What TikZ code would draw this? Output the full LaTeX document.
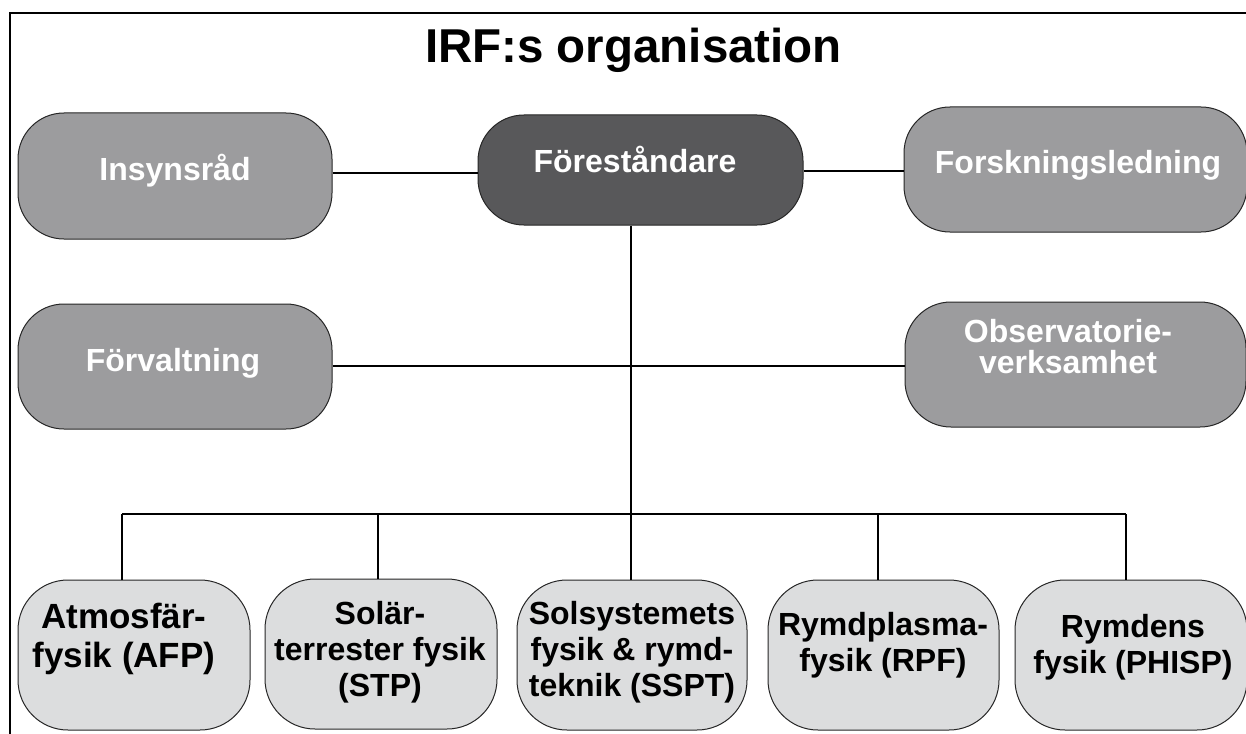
\documentclass[tikz,border=0pt]{standalone}
\usepackage{fontspec}
\setmainfont{Liberation Sans}
\definecolor{midgray}{RGB}{156,156,158}
\definecolor{headgray}{RGB}{88,88,90}
\definecolor{unitgray}{RGB}{220,221,222}
\begin{document}
\begin{tikzpicture}[x=1pt,y=-1pt,
  box/.style={draw=black!85, line width=1pt, rounded corners=46pt, inner sep=0pt},
  topbox/.style={box, fill=midgray},
  headbox/.style={box, fill=headgray},
  unitbox/.style={box, fill=unitgray, rounded corners=50pt, minimum width=232pt, minimum height=150pt},
  wtxt/.style={text=white, font=\bfseries\fontsize{32}{31}\selectfont, align=center, inner sep=0pt},
  btxt/.style={text=black, font=\bfseries\fontsize{32}{36}\selectfont, align=center, inner sep=0pt},
  conn/.style={line width=2.8pt, draw=black},
  frame/.style={line width=2.8pt, draw=black}]
\useasboundingbox (0,0) rectangle (1246,733);
% frame
\draw[frame] (1260,13) -| (10,745);
% title
\node[font=\bfseries\fontsize{47.5}{50}\selectfont, anchor=base, inner sep=0pt] (title) at (633.5,63) {IRF:s organisation};
% top row
\node[topbox, minimum width=314pt, minimum height=126pt] (ins) at (175,176) {};
\node[headbox, minimum width=325pt, minimum height=110pt] (for) at (640.5,170) {};
\node[topbox, minimum width=343pt, minimum height=125pt] (fsk) at (1075.5,169.5) {};
\node[wtxt, anchor=base] (insT) at (175,180) {Insynsråd};
\node[wtxt, anchor=base] (forT) at (635,172) {Föreståndare};
\node[wtxt, anchor=base] (fskT) at (1078,173) {Forskningsledning};
% middle row
\node[topbox, minimum width=314pt, minimum height=125pt] (fv) at (175,366.5) {};
\node[topbox, minimum width=341pt, minimum height=125pt] (obs) at (1075.5,364.5) {};
\node[wtxt, anchor=base] (fvT) at (173,371) {Förvaltning};
\node[wtxt] (obsT) at (1068,347) {Observatorie-\\verksamhet};
% units
\node[unitbox] (afp) at (134,655) {};
\node[unitbox] (stp) at (381,654) {};
\node[unitbox, minimum width=230pt] (sspt) at (632,655) {};
\node[unitbox, minimum width=231pt] (rpf) at (883.5,655) {};
\node[unitbox] (phisp) at (1131,655) {};
\node[btxt, font=\bfseries\fontsize{35}{39}\selectfont] (afpT) at (124,639) {Atmosfär-\\fysik (AFP)};
\node[btxt] (stpT) at (380,652) {Solär-\\terrester fysik\\(STP)};
\node[btxt] (ssptT) at (632,652) {Solsystemets\\fysik \& rymd-\\teknik (SSPT)};
\node[btxt] (rpfT) at (883,645) {Rymdplasma-\\fysik (RPF)};
\node[btxt] (phispT) at (1133,647) {Rymdens\\fysik (PHISP)};
% connectors
\coordinate (r1) at (0,173);
\coordinate (r2) at (0,171);
\coordinate (r3) at (0,366);
\draw[conn] (ins.east |- r1) -- (for.west |- r1);
\draw[conn] (for.east |- r2) -- (fsk.west |- r2);
\draw[conn] (fv.east |- r3) -- (obs.west |- r3);
\coordinate (trunk) at (631,514);
\coordinate (b1) at (122,514);
\coordinate (b2) at (378,514);
\coordinate (b4) at (878,514);
\coordinate (b5) at (1126,514);
\draw[conn] (trunk |- for.south) -- (trunk);
\draw[conn] (b1) -- (b5);
\draw[conn] (b1) -- (b1 |- afp.north);
\draw[conn] (b2) -- (b2 |- stp.north);
\draw[conn] (trunk) -- (trunk |- sspt.north);
\draw[conn] (b4) -- (b4 |- rpf.north);
\draw[conn] (b5) -- (b5 |- phisp.north);
\end{tikzpicture}
\end{document}
